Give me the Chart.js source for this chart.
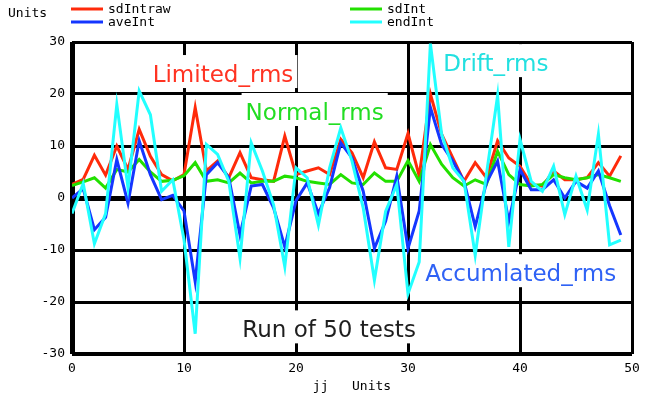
<!DOCTYPE html>
<html>
<head>
<meta charset="utf-8">
<script src="https://cdn.jsdelivr.net/npm/chart.js@4.4.1/dist/chart.umd.min.js"></script>
<style>
	body { margin: 0; background: #ffffff; }
	#chart { display: block; }
</style>
</head>
<body>
<canvas id="chart" width="662" height="398"></canvas>
<script>
// run index, 50 tests
var jj = [0, 1, 2, 3, 4, 5, 6, 7, 8, 9,
	10, 11, 12, 13, 14, 15, 16, 17, 18, 19,
	20, 21, 22, 23, 24, 25, 26, 27, 28, 29,
	30, 31, 32, 33, 34, 35, 36, 37, 38, 39,
	40, 41, 42, 43, 44, 45, 46, 47, 48, 49];

var sdIntraw = [2.6, 3.6, 8.2, 4.4, 10, 5.5, 13.2, 8, 4.5, 3.3,
	4.5, 17.4, 5.2, 7.1, 3.9, 8.7, 3.9, 3.5, 3.2, 11.9,
	4.5, 5.2, 5.8, 4.5, 11.3, 8.7, 3.9, 10.8, 5.8, 5.5,
	12.4, 4.2, 20, 12.3, 7.7, 3.2, 6.8, 3.9, 11, 7.7,
	6.1, 2.6, 2.3, 5.2, 3.5, 3.5, 3.9, 6.8, 4.2, 8.1];

var sdInt = [2.4, 3.1, 3.9, 1.9, 5.5, 5, 7.4, 5, 3.2, 3.4,
	4.3, 6.8, 3.2, 3.5, 2.9, 4.8, 2.9, 3.2, 3.2, 4.2,
	3.9, 3.2, 2.9, 2.6, 4.5, 2.9, 2.6, 4.8, 3.2, 3.2,
	7.2, 3.2, 10.3, 6.5, 3.9, 2.3, 3.5, 2.6, 9, 4.5,
	2.6, 2.3, 2.6, 4.5, 3.9, 3.5, 3.9, 4.5, 3.9, 3.2];

var aveInt = [0, 1.8, -6.1, -3.7, 7.4, -1, 11, 4.5, -0.3, 0.5,
	-2.5, -16.1, 4.5, 6.8, 3.9, -7.1, 2.3, 2.6, -1.9, -9.4,
	-0.5, 2.9, -3, 2, 10.6, 7.7, 1.3, -9.7, -4.5, 4.2,
	-9.7, -2.5, 17.4, 10.3, 7.1, 3.2, -5.5, 2.9, 7.1, -4.5,
	5.5, 1.6, 1.6, 3.5, 0, 3.2, 1.9, 5.2, -1.5, -7.1];

var endInt = [-3, 2.8, -8.8, -3, 18, 2, 20.6, 16, 1.3, 3.5,
	-8, -26.1, 10.3, 8.4, 3.2, -11.6, 10.6, 5.2, -1.3, -13.2,
	5.8, 3.9, -5.2, 5.8, 13.5, 7.1, -1.9, -15.8, -2.6, 2.6,
	-18.4, -12.3, 29.7, 12.3, 5.8, 3.2, -11, 4.5, 19.7, -9.4,
	11.3, 3.2, 1.3, 6.1, -3.2, 4.2, -2.3, 12.3, -9, -8.1];

var yTicks = [-30, -20, -10, 0, 10, 20, 30];
var xTicks = [0, 10, 20, 30, 40, 50];

// text notes placed on the plot (data units, baseline left)
var notes = [
	{text: "Limited_rms", x: 7.2, y: 22.3, color: "#ff3322"},
	{text: "Normal_rms", x: 15.5, y: 15.0, color: "#22dd22"},
	{text: "Drift_rms", x: 33.15, y: 24.4, color: "#22e0e0"},
	{text: "Accumlated_rms", x: 31.55, y: -16.0, color: "#2f62f5"},
	{text: "Run of 50 tests", x: 15.2, y: -26.8, color: "#1e1e1e"}
];

var SMALL_FONT = "13px 'DejaVu Sans Mono', monospace";
var NOTE_FONT = "23px 'DejaVu Sans', sans-serif";

function pts(values)
{
	var out = [];
	for (var i = 0; i < jj.length; i++)
		out.push({x: jj[i], y: values[i]});
	return out;
}

function series(label, values, color, order)
{
	return {
		label: label,
		data: pts(values),
		borderColor: color,
		backgroundColor: color,
		borderWidth: 3,
		pointRadius: 0,
		tension: 0,
		order: order
	};
}

var notesPlugin = {
	id: "notes",
	beforeDatasetsDraw: function(chart)
	{
		var ctx = chart.ctx;
		var xs = chart.scales.x, ys = chart.scales.y;
		ctx.save();
		ctx.font = NOTE_FONT;
		ctx.textBaseline = "alphabetic";
		ctx.textAlign = "left";
		for (var i = 0; i < notes.length; i++)
		{
			var n = notes[i];
			var px = xs.getPixelForValue(n.x);
			var py = ys.getPixelForValue(n.y);
			var w = ctx.measureText(n.text).width;
			ctx.fillStyle = "#ffffff";
			ctx.fillRect(px - 4, py - 27, w + 8, 33);
			ctx.fillStyle = n.color;
			ctx.fillText(n.text, px, py);
		}
		ctx.restore();
	}
};

var legendPlugin = {
	id: "toplegend",
	afterDraw: function(chart)
	{
		var ctx = chart.ctx;
		var ds = chart.data.datasets;
		// column x of line start, row y
		var spots = [[71, 9], [350, 9], [71, 22], [350, 22]];
		ctx.save();
		ctx.font = SMALL_FONT;
		ctx.textBaseline = "middle";
		ctx.fillStyle = "#000000";
		ctx.fillText("Units", 8, 14);
		for (var i = 0; i < ds.length; i++)
		{
			var s = spots[i];
			ctx.strokeStyle = ds[i].borderColor;
			ctx.lineWidth = 3;
			ctx.beginPath();
			ctx.moveTo(s[0], s[1]);
			ctx.lineTo(s[0] + 32, s[1]);
			ctx.stroke();
			ctx.fillStyle = "#000000";
			ctx.fillText(ds[i].label, s[0] + 37, s[1] + 1);
		}
		ctx.restore();
	}
};

var chart = new Chart(document.getElementById("chart"), {
	type: "line",
	data: {
		datasets: [
			series("sdIntraw", sdIntraw, "#ff2a0a", 3),
			series("sdInt", sdInt, "#22e000", 2),
			series("aveInt", aveInt, "#1436ff", 1),
			series("endInt", endInt, "#22ffff", 0)
		]
	},
	options: {
		responsive: false,
		animation: false,
		devicePixelRatio: 1,
		layout: {padding: {top: 42, right: 30, left: 0, bottom: 0}},
		plugins: {
			legend: {display: false},
			tooltip: {enabled: false}
		},
		scales: {
			x: {
				type: "linear",
				min: 0,
				max: 50,
				afterFit: function(scale) { scale.height = 44; },
				afterBuildTicks: function(scale) {
					scale.ticks = xTicks.map(function(v) { return {value: v}; });
				},
				border: {display: false},
				grid: {
					color: "#000000",
					drawTicks: false,
					lineWidth: function(c) {
						if (c.tick.value === 0) return 5;
						return 3;
					}
				},
				ticks: {
					color: "#000000",
					font: {family: "'DejaVu Sans Mono', monospace", size: 13},
					padding: 7,
					maxRotation: 0
				},
				title: {
					display: true,
					text: "jj   Units",
					color: "#000000",
					font: {family: "'DejaVu Sans Mono', monospace", size: 13},
					padding: {top: 0, bottom: 4}
				}
			},
			y: {
				type: "linear",
				min: -30,
				max: 30,
				afterFit: function(scale) { scale.width = 72; },
				afterBuildTicks: function(scale) {
					scale.ticks = yTicks.map(function(v) { return {value: v}; });
				},
				border: {display: false},
				grid: {
					color: "#000000",
					drawTicks: false,
					lineWidth: function(c) {
						if (c.tick.value === 0) return 5;
						if (c.tick.value === -30) return 4;
						return 3;
					}
				},
				ticks: {
					color: "#000000",
					font: {family: "'DejaVu Sans Mono', monospace", size: 13},
					padding: 7
				}
			}
		}
	},
	plugins: [notesPlugin, legendPlugin]
});
</script>
</body>
</html>
